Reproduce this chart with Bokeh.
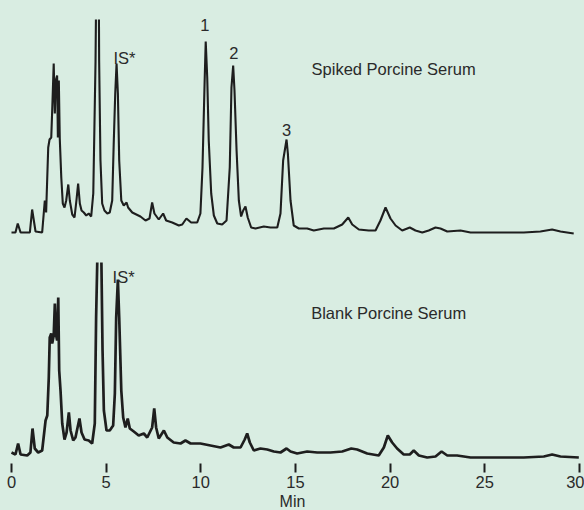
from bokeh.plotting import figure
from bokeh.models import Range1d, FixedTicker, Label
from bokeh.embed import file_html
from bokeh.resources import INLINE

NAN = float("nan")

# Retention time (min) and detector signal (arbitrary units).
# NaN marks the off-scale apex of the solvent peak (trace leaves the chart).
spiked_time = [0.00, 0.21, 0.33, 0.48, 0.97, 1.09, 1.27, 1.62, 1.76, 1.83, 1.94, 2.01, 2.10, 2.15, 2.23,
               2.29, 2.34, 2.41, 2.45, 2.50, 2.55, 2.63, 2.71, 2.80, 2.89, 3.00, 3.08, 3.21, 3.33, 3.43,
               3.52, 3.61, 3.70, 3.82, 3.95, 4.08, 4.21, 4.32, 4.38, 4.44, 4.46, 4.54, 4.62, 4.63, 4.70,
               4.79, 4.91, 5.06, 5.19, 5.32, 5.40, 5.48, 5.55, 5.62, 5.69, 5.80, 5.93, 6.08, 6.16, 6.38,
               6.81, 7.08, 7.29, 7.43, 7.55, 7.78, 8.01, 8.17, 8.49, 8.84, 9.02, 9.24, 9.49, 9.81, 9.98,
               10.09, 10.20, 10.26, 10.34, 10.42, 10.55, 10.69, 10.87, 11.13, 11.36, 11.53, 11.62, 11.71,
               11.78, 11.89, 12.01, 12.13, 12.24, 12.36, 12.48, 12.66, 12.89, 13.33, 13.68, 14.04, 14.21,
               14.35, 14.53, 14.60, 14.74, 14.91, 15.18, 15.62, 15.97, 16.50, 17.03, 17.47, 17.79, 18.00,
               18.35, 18.87, 19.23, 19.49, 19.76, 20.02, 20.29, 20.64, 21.04, 21.34, 21.70, 22.04, 22.40,
               22.66, 23.02, 23.72, 24.25, 25.66, 27.06, 27.94, 28.56, 29.00, 29.70]
spiked_signal = [0, 0, 9, 0, 0, 23, 1, 0, 32, 20, 85, 93, 95, 122, 169,
                 119, 152, 157, 95, 152, 94, 55, 29, 25, 32, 48, 32, 18, 15, 32,
                 49, 29, 22, 20, 17, 19, 16, 39, 105, 172, 213, NAN, 213, 172, 72,
                 29, 22, 19, 20, 32, 89, 139, 169, 139, 72, 32, 27, 30, 25, 20,
                 16, 12, 14, 30, 19, 13, 19, 12, 10, 7, 8, 14, 10, 10, 19,
                 65, 149, 191, 155, 92, 39, 17, 9, 8, 12, 65, 145, 167,
                 142, 82, 32, 16, 22, 26, 15, 5, 4, 6, 5, 5, 19,
                 72, 93, 79, 32, 7, 4, 4, 2, 4, 4, 8, 15, 8,
                 3, 2, 2, 12, 25, 14, 7, 2, 5, 2, 0, 2, 5,
                 4, 1, 2, 0, 0, 0, 1, 3, 1, -1]

blank_time = [0.00, 0.21, 0.35, 0.48, 0.83, 1.00, 1.11, 1.23, 1.41, 1.62, 1.80, 1.89, 1.97, 2.02, 2.10,
              2.15, 2.23, 2.29, 2.34, 2.41, 2.47, 2.52, 2.59, 2.68, 2.80, 2.91, 3.03, 3.12, 3.26, 3.38,
              3.59, 3.70, 3.86, 4.08, 4.26, 4.40, 4.47, 4.53, 4.64, 4.75, 4.81, 4.88, 5.02, 5.19, 5.37,
              5.46, 5.53, 5.62, 5.69, 5.80, 5.90, 6.02, 6.14, 6.25, 6.46, 6.72, 6.99, 7.17, 7.43, 7.54,
              7.64, 7.78, 8.05, 8.23, 8.57, 8.93, 9.19, 9.46, 9.98, 10.51, 11.04, 11.48, 11.74, 12.10,
              12.32, 12.45, 12.59, 12.80, 13.15, 13.51, 13.86, 14.21, 14.53, 14.74, 15.09, 15.62, 16.15,
              16.85, 17.47, 17.95, 18.26, 18.79, 19.40, 19.67, 19.88, 20.11, 20.37, 20.72, 21.04, 21.25,
              21.52, 21.96, 22.40, 22.72, 23.02, 23.54, 24.25, 25.66, 27.06, 28.12, 28.56, 29.00, 29.97]
blank_signal = [3, 1, 12, 1, 0, 3, 27, 7, 3, 5, 35, 40, 78, 118, 122,
                112, 120, 152, 122, 115, 158, 85, 65, 32, 16, 23, 43, 25, 15, 18,
                37, 23, 16, 15, 12, 32, 138, 193, NAN, 193, 105, 45, 25, 25, 30,
                62, 138, 176, 138, 65, 38, 28, 37, 27, 24, 20, 22, 18, 28, 47,
                28, 17, 25, 18, 13, 12, 15, 12, 12, 10, 8, 11, 8, 8,
                16, 22, 13, 5, 7, 6, 4, 3, 7, 4, 2, 4, 3,
                3, 4, 7, 6, 2, 0, 8, 20, 13, 7, 1, 1, 5,
                0, -2, -1, 4, 0, 0, -2, -2, -2, -1, 1, -1, -2]

tick_values = [0, 5, 10, 15, 20, 25, 30]
trace_names = ["Spiked Porcine Serum", "Blank Porcine Serum"]
peak_names = ["1", "2", "3", "IS*"]

BG = "#d9ede2"
INK = "#1e1e1e"
TXT = "#2a2a2a"
FONT = "Liberation Sans"

TOP_OFFSET = 231
BOTTOM_OFFSET = 8

p = figure(frame_width=584, frame_height=463, output_backend="svg", toolbar_location=None,
           x_range=Range1d(-0.581, 30.27), y_range=Range1d(0, 463), y_axis_location=None,
           min_border=0, min_border_left=0, min_border_right=0, min_border_top=0, min_border_bottom=0)
p.background_fill_color = BG
p.border_fill_color = BG
p.outline_line_color = None
p.grid.visible = False

p.line(spiked_time, [s + TOP_OFFSET for s in spiked_signal],
       line_color=INK, line_width=2.1)
p.line(blank_time, [s + BOTTOM_OFFSET for s in blank_signal],
       line_color=INK, line_width=2.7)

ax = p.xaxis[0]
ax.ticker = FixedTicker(ticks=tick_values)
ax.axis_line_color = None
ax.major_tick_line_color = INK
ax.major_tick_line_width = 2
ax.major_tick_in = 0
ax.major_tick_out = 9
ax.minor_tick_line_color = None
ax.major_label_text_font = FONT
ax.major_label_text_font_size = "16.5px"
ax.major_label_text_color = TXT
ax.major_label_standoff = 3
ax.axis_label = "Min"
ax.axis_label_text_font = FONT
ax.axis_label_text_font_size = "16px"
ax.axis_label_text_font_style = "normal"
ax.axis_label_text_color = TXT
ax.axis_label_standoff = 2

def add_label(x, y, text, align="center"):
    p.add_layout(Label(x=x, y=y, text=text, text_font=FONT, text_font_size="16.5px",
                       text_color=TXT, text_align=align, text_baseline="alphabetic"))

add_label(10.22, 439, peak_names[0])
add_label(11.74, 411, peak_names[1])
add_label(14.53, 334, peak_names[2])
add_label(5.39, 406, peak_names[3], "left")
add_label(5.34, 187, peak_names[3], "left")
add_label(15.85, 395, trace_names[0], "left")
add_label(15.83, 151, trace_names[1], "left")

html = file_html(p, INLINE)
html = html.replace("<body>", '<body style="background-color:%s;">' % BG)
open("out.html", "w").write(html)
